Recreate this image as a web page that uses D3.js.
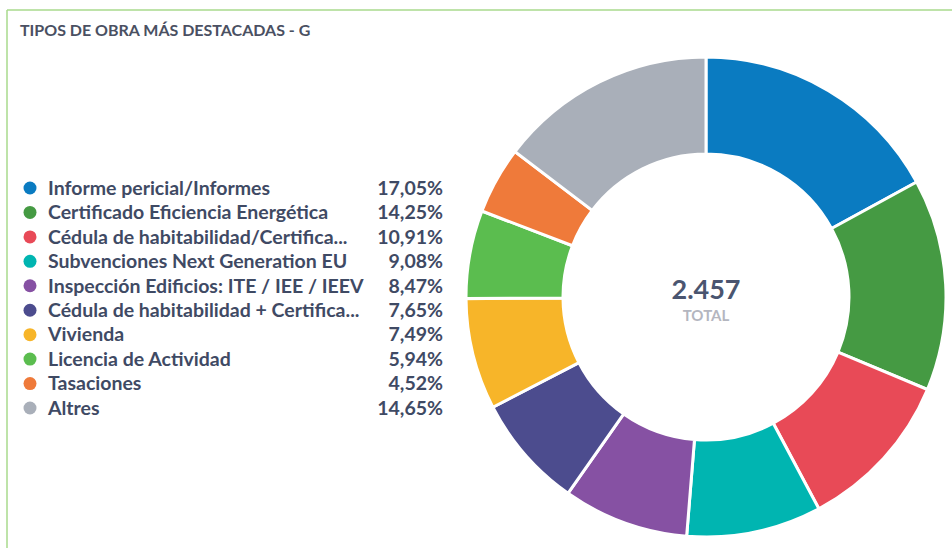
<!DOCTYPE html>
<html>
<head>
<meta charset="utf-8">
<script src="https://cdn.jsdelivr.net/npm/d3@7"></script>
<style>
  body { margin: 0; background: #fff; }
  svg { display: block; font-family: Lato, "Open Sans", sans-serif; }
</style>
</head>
<body>
<script>
// data
var categories = [
  "Informe pericial/Informes",
  "Certificado Eficiencia Energética",
  "Cédula de habitabilidad/Certifica...",
  "Subvenciones Next Generation EU",
  "Inspección Edificios: ITE / IEE / IEEV",
  "Cédula de habitabilidad + Certifica...",
  "Vivienda",
  "Licencia de Actividad",
  "Tasaciones",
  "Altres"
];
var percents = [17.05, 14.25, 10.91, 9.08, 8.47, 7.65, 7.49, 5.94, 4.52, 14.65];
var colors = ["#0a7bc1", "#459a43", "#e84a57", "#00b5b1", "#8651a3",
              "#4c4c8e", "#f7b529", "#5bbd4f", "#ef7a3a", "#a9afb9"];
var total = "2.457";
var title = "TIPOS DE OBRA MÁS DESTACADAS - G";

var width = 952, height = 548;

var svg = d3.select("body").append("svg")
    .attr("width", width)
    .attr("height", height);

// panel border (green, top and left)
svg.append("line")
    .attr("x1", 7).attr("x2", width).attr("y1", 10).attr("y2", 10)
    .attr("stroke", "#a9da8c").attr("stroke-width", 1.5);
svg.append("line")
    .attr("x1", 7).attr("x2", 7).attr("y1", 10).attr("y2", height)
    .attr("stroke", "#a9da8c").attr("stroke-width", 1.5);

svg.append("text")
    .attr("x", 20).attr("y", 36)
    .attr("font-size", 16).attr("font-weight", 700)
    .attr("fill", "#4a5062")
    .text(title);

// donut
var cx = 706, cy = 297, outerR = 240, innerR = 143;

var pie = d3.pie().sort(null).value(function(d) { return d; });
var arc = d3.arc().innerRadius(innerR).outerRadius(outerR);

var g = svg.append("g").attr("transform", "translate(" + cx + "," + cy + ")");

g.selectAll("path")
    .data(pie(percents))
    .enter()
    .append("path")
    .attr("d", arc)
    .attr("fill", function(d, i) { return colors[i]; })
    .attr("stroke", "#fff")
    .attr("stroke-width", 3);

g.append("text")
    .attr("text-anchor", "middle")
    .attr("y", 2)
    .attr("font-size", 27).attr("font-weight", 700)
    .attr("fill", "#4a5570")
    .text(total);
g.append("text")
    .attr("text-anchor", "middle")
    .attr("y", 24)
    .attr("font-size", 15).attr("font-weight", 700)
    .attr("fill", "#b4b6bf")
    .text("TOTAL");

// legend
var yRow = d3.scalePoint().domain(d3.range(categories.length)).range([188, 408]);

var rows = svg.append("g").selectAll("g")
    .data(categories)
    .enter()
    .append("g")
    .attr("transform", function(d, i) { return "translate(0," + yRow(i) + ")"; });

rows.append("circle")
    .attr("cx", 30).attr("cy", 0).attr("r", 6.5)
    .attr("fill", function(d, i) { return colors[i]; });

rows.append("text")
    .attr("x", 48).attr("dy", "0.35em")
    .attr("font-size", 19.5).attr("font-weight", 700)
    .attr("fill", "#3f4a64")
    .text(function(d) { return d; });

rows.append("text")
    .attr("x", 443).attr("dy", "0.35em")
    .attr("text-anchor", "end")
    .attr("font-size", 19.5).attr("font-weight", 700)
    .attr("fill", "#3f4a64")
    .text(function(d, i) { return d3.format(".2f")(percents[i]).replace(".", ",") + "%"; });
</script>
</body>
</html>
